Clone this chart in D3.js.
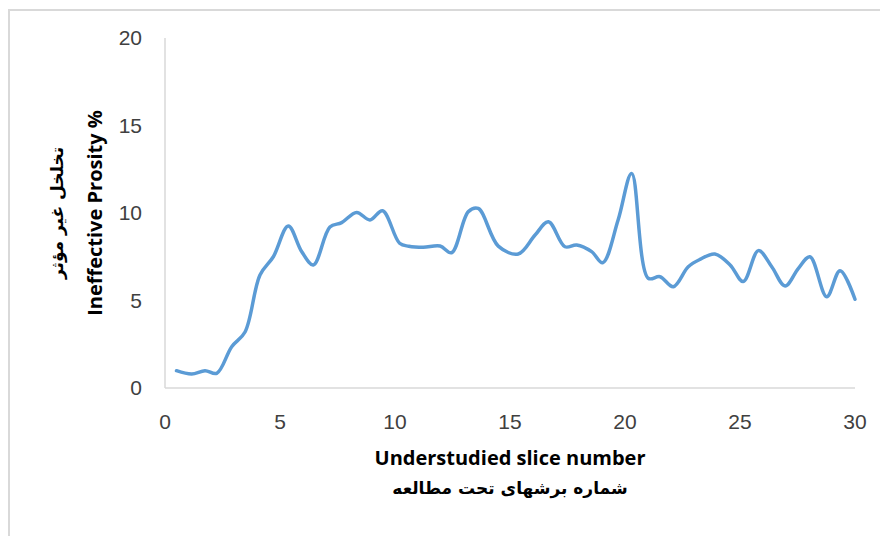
<!DOCTYPE html>
<html>
<head>
<meta charset="utf-8">
<script src="https://cdn.jsdelivr.net/npm/d3@7"></script>
<style>
html,body{margin:0;padding:0;background:#fff;}
svg{display:block;}
</style>
</head>
<body>
<svg id="chart" width="880" height="536"></svg>
<script>
const sliceNumber = [0.5,1.16,1.74,2.25,2.9,3.48,4.13,4.71,5.36,5.94,6.45,7.17,7.68,8.33,8.91,9.46,10.2,10.6,11.23,11.96,12.46,13.19,13.62,14.49,15.36,16.09,16.67,17.39,17.9,18.55,19.03,19.7,20.29,21.01,21.52,22.1,22.75,23.26,23.91,24.57,25.14,25.8,26.38,26.96,27.54,28.04,28.77,29.35,30];
const ineffectivePorosity = [0.99,0.8,0.99,0.84,2.36,3.2,6.46,7.5,9.26,7.8,7.03,9.2,9.45,10.03,9.6,10.13,8.27,8.1,8.04,8.11,7.73,10.08,10.26,8.11,7.66,8.74,9.5,8.07,8.17,7.79,7.16,9.6,12.26,6.27,6.36,5.79,6.93,7.35,7.66,7.03,6.08,7.85,6.93,5.83,6.84,7.5,5.22,6.7,5.07];
const xTicks = [0,5,10,15,20,25,30];
const yTicks = [0,5,10,15,20];
const xTitle = "Understudied slice number";
const xTitleFa = "شماره برشهای تحت مطالعه";
const yTitle = "Ineffective Prosity %";
const yTitleFa = "تخلخل غیر مؤثر";

const svg = d3.select("#chart");
// outer chart border
svg.append("rect").attr("x",9).attr("y",10).attr("width",900).attr("height",560)
  .attr("fill","none").attr("stroke","#d9d9d9").attr("stroke-width",2);

const x = d3.scaleLinear().domain([0,30]).range([165,855]);
const y = d3.scaleLinear().domain([0,20]).range([388,38]);

const axisColor = "#d9d9d9";
const labelFont = "'Liberation Sans', Arial, sans-serif";
const titleFont = "'Open Sans', 'Liberation Sans', sans-serif";

// axis lines
svg.append("line").attr("x1",x(0)).attr("x2",x(0)).attr("y1",y(20)).attr("y2",y(0))
  .attr("stroke",axisColor).attr("stroke-width",1.5);
svg.append("line").attr("x1",x(0)).attr("x2",x(30)).attr("y1",y(0)).attr("y2",y(0))
  .attr("stroke",axisColor).attr("stroke-width",1.5);

// y tick labels
svg.append("g").selectAll("text").data(yTicks).join("text")
  .attr("x",142).attr("y",d=>y(d)).attr("dy","0.35em")
  .attr("text-anchor","end").attr("font-family",labelFont).attr("font-size",21)
  .attr("fill","#404040").text(d=>d);

// x tick labels
svg.append("g").selectAll("text").data(xTicks).join("text")
  .attr("x",d=>x(d)).attr("y",422).attr("dy","0.35em")
  .attr("text-anchor","middle").attr("font-family",labelFont).attr("font-size",21)
  .attr("fill","#404040").text(d=>d);

// line
const pts = sliceNumber.map((s,i)=>[s, ineffectivePorosity[i]]);
const line = d3.line().x(d=>x(d[0])).y(d=>y(d[1])).curve(d3.curveCatmullRom.alpha(0.5));
svg.append("path").datum(pts).attr("d",line).attr("fill","none")
  .attr("stroke","#5b9bd5").attr("stroke-width",3.5).attr("stroke-linejoin","round").attr("stroke-linecap","round");

// x titles
svg.append("text").attr("x",510).attr("y",465).attr("text-anchor","middle")
  .attr("font-family",titleFont).attr("font-weight","bold").attr("font-size",20)
  .attr("fill","#000").text(xTitle);
svg.append("text").attr("x",510).attr("y",494).attr("text-anchor","middle")
  .attr("font-family","'DejaVu Sans', sans-serif").attr("font-weight","bold").attr("font-size",17)
  .attr("direction","rtl").attr("fill","#000").text(xTitleFa);

// y titles
svg.append("text").attr("transform","translate(102,213) rotate(-90)").attr("text-anchor","middle")
  .attr("font-family",titleFont).attr("font-weight","bold").attr("font-size",20)
  .attr("fill","#000").text(yTitle);
svg.append("text").attr("transform","translate(63,213) rotate(-90)").attr("text-anchor","middle")
  .attr("font-family","'DejaVu Sans', sans-serif").attr("font-weight","bold").attr("font-size",17)
  .attr("direction","rtl").attr("fill","#000").text(yTitleFa);
</script>
</body>
</html>
